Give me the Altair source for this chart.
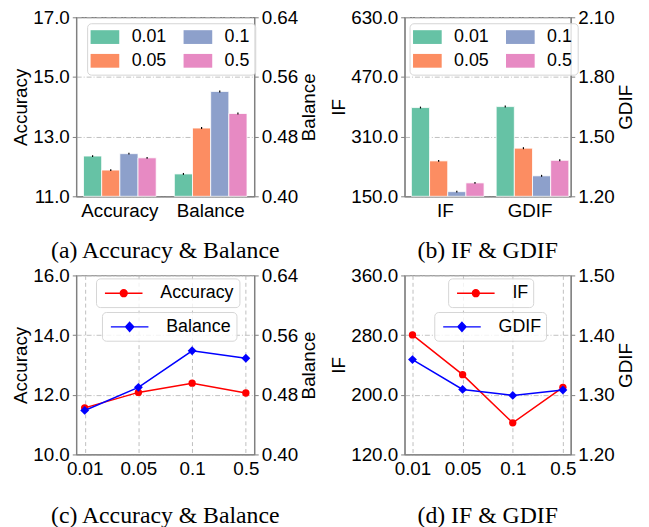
import altair as alt
import pandas as pd

rates = ["0.01", "0.05", "0.1", "0.5"]
bar_colors = ["#66c2a5", "#fc8d62", "#8da0cb", "#e78ac3"]

# (a) bars
acc_bar = [12.35, 11.88, 12.43, 12.29]
acc_bar_err = [0.03, 0.03, 0.03, 0.03]
bal_bar = [0.430, 0.4915, 0.5406, 0.511]
bal_bar_err = [0.0013, 0.0013, 0.0013, 0.0013]
# (b) bars
if_bar = [388.0, 245.0, 162.5, 186.0]
if_bar_err = [2.5, 2.5, 2.5, 2.5]
gdif_bar = [1.651, 1.442, 1.303, 1.381]
gdif_bar_err = [0.005, 0.005, 0.005, 0.005]
# (c) lines
acc_line = [11.56, 12.08, 12.39, 12.06]
bal_line = [0.459, 0.490, 0.539, 0.529]
# (d) lines
if_line = [280.3, 227.0, 162.4, 210.0]
gdif_line = [1.359, 1.309, 1.299, 1.308]

SANS = "Liberation Sans"
SERIF = "Liberation Serif"
FRAME = "#808080"


def caption(text, offset):
    return alt.TitleParams(text, orient="bottom", font=SERIF, fontSize=24,
                           fontWeight="normal", color="black", offset=offset,
                           anchor="middle", frame="group")


def left_axis(title, values):
    return alt.Axis(title=title, values=values, format=".1f", grid=True,
                    titlePadding=2)


def right_axis(title, values, fmt):
    return alt.Axis(title=title, values=values, format=fmt, grid=False,
                    orient="right", titleAngle=270, titleBaseline="top",
                    titlePadding=2)


def bar_panel(names, lv, le, rv, re, ldom, lticks, rdom, rticks, rfmt,
              width, legx, cap):
    dl = pd.DataFrame({"metric": names[0], "rate": rates, "value": lv,
                       "lo": [v - e for v, e in zip(lv, le)],
                       "hi": [v + e for v, e in zip(lv, le)]})
    dr = pd.DataFrame({"metric": names[1], "rate": rates, "value": rv,
                       "lo": [v - e for v, e in zip(rv, re)],
                       "hi": [v + e for v, e in zip(rv, re)]})
    X = alt.X("metric:N", scale=alt.Scale(domain=names, paddingInner=0.2,
                                          paddingOuter=0.08),
              axis=alt.Axis(title=None, labelAngle=0, ticks=False,
                            labelPadding=5, grid=False))
    XO = alt.XOffset("rate:N", scale=alt.Scale(domain=rates, paddingInner=0,
                                               paddingOuter=0))
    C = alt.Color("rate:N",
                  scale=alt.Scale(domain=rates, range=bar_colors),
                  legend=alt.Legend(title=None, orient="none", legendX=legx,
                                    legendY=6, columns=2,
                                    symbolType="M-2,-0.96H2V0.96H-2Z",
                                    symbolSize=210, symbolStrokeWidth=0,
                                    symbolOffset=4, symbolOpacity=1,
                                    labelFont=SANS, labelFontSize=18,
                                    labelOffset=18, columnPadding=16,
                                    rowPadding=6, padding=5,
                                    fillColor="rgba(255,255,255,0.8)",
                                    strokeColor="#d6d6d6", cornerRadius=4))
    lscale = alt.Scale(domain=ldom, zero=False, nice=False)
    rscale = alt.Scale(domain=rdom, zero=False, nice=False)
    la = left_axis(names[0], lticks)
    ra = right_axis(names[1], rticks, rfmt)
    lbar = alt.Chart(dl).mark_bar(stroke="white", strokeWidth=0.8).encode(
        x=X, xOffset=XO, color=C,
        y=alt.Y("value:Q", scale=lscale, axis=la), y2=alt.datum(ldom[0]))
    lerr = alt.Chart(dl).mark_rule(color="black", strokeWidth=1.2).encode(
        x=X, xOffset=XO, y=alt.Y("lo:Q", scale=lscale, axis=la), y2="hi:Q")
    rbar = alt.Chart(dr).mark_bar(stroke="white", strokeWidth=0.8).encode(
        x=X, xOffset=XO, color=C,
        y=alt.Y("value:Q", scale=rscale, axis=ra), y2=alt.datum(rdom[0]))
    rerr = alt.Chart(dr).mark_rule(color="black", strokeWidth=1.2).encode(
        x=X, xOffset=XO, y=alt.Y("lo:Q", scale=rscale, axis=ra), y2="hi:Q")
    return alt.layer(alt.layer(lbar, lerr), alt.layer(rbar, rerr)).resolve_scale(
        y="independent").properties(width=width, height=181,
                                    title=caption(cap, 19))


def line_legend(x, y, path, color):
    return alt.Legend(title=None, orient="none", legendX=x, legendY=y,
                      symbolType=path, symbolSize=324, symbolStrokeWidth=1.5,
                      symbolFillColor=color, symbolStrokeColor=color,
                      symbolOpacity=1, symbolOffset=13,
                      labelFont=SANS, labelFontSize=18, labelOffset=27,
                      padding=5, fillColor="rgba(255,255,255,0.8)",
                      strokeColor="#d6d6d6", cornerRadius=4)


CIRCLE_PATH = "M-2.11,0H2.11M0.38,0A0.38,0.38,0,1,1,-0.38,0A0.38,0.38,0,1,1,0.38,0Z"
DIAMOND_PATH = "M-2.11,0H2.11M0,-0.5L0.45,0L0,0.5L-0.45,0Z"


def line_panel(names, lv, rv, ldom, lticks, rdom, rticks, rfmt, width,
               leg1x, leg2x, cap):
    df = pd.DataFrame({"rate": rates, "left": lv, "right": rv,
                       "s1": names[0], "s2": names[1]})
    X = alt.X("rate:N", sort=rates,
              scale=alt.Scale(type="point", domain=rates, padding=0.157),
              axis=alt.Axis(title=None, labelAngle=0, ticks=False,
                            labelPadding=5, grid=True, gridDash=[4, 3]))
    l1 = alt.Chart(df).mark_line(strokeWidth=1.5, point=alt.OverlayMarkDef(
        shape="circle", size=55, filled=True, opacity=1)).encode(
        x=X,
        y=alt.Y("left:Q", scale=alt.Scale(domain=ldom, zero=False, nice=False),
                axis=left_axis(names[0], lticks)),
        color=alt.Color("s1:N", scale=alt.Scale(domain=[names[0]], range=["red"]),
                        legend=line_legend(leg1x, 3, CIRCLE_PATH, "red")))
    l2 = alt.Chart(df).mark_line(strokeWidth=1.5, point=alt.OverlayMarkDef(
        shape="diamond", size=80, filled=True, opacity=1)).encode(
        x=X,
        y=alt.Y("right:Q", scale=alt.Scale(domain=rdom, zero=False, nice=False),
                axis=right_axis(names[1], rticks, rfmt)),
        color=alt.Color("s2:N", scale=alt.Scale(domain=[names[1]], range=["blue"]),
                        legend=line_legend(leg2x, 37, DIAMOND_PATH, "blue")))
    return alt.layer(l1, l2).resolve_scale(
        y="independent", color="independent").properties(
        width=width, height=181, title=caption(cap, 26))


pa = bar_panel(["Accuracy", "Balance"], acc_bar, acc_bar_err, bal_bar, bal_bar_err,
               [11, 17], [11, 13, 15, 17], [0.40, 0.64], [0.40, 0.48, 0.56, 0.64],
               ".2f", 180, 11, "(a) Accuracy & Balance")
pb = bar_panel(["IF", "GDIF"], if_bar, if_bar_err, gdif_bar, gdif_bar_err,
               [150, 630], [150, 310, 470, 630], [1.2, 2.1], [1.2, 1.5, 1.8, 2.1],
               ".2f", 168, 5, "(b) IF & GDIF")
pc = line_panel(["Accuracy", "Balance"], acc_line, bal_line,
                [10, 16], [10, 12, 14, 16], [0.40, 0.64], [0.40, 0.48, 0.56, 0.64],
                ".2f", 180, 20, 26, "(c) Accuracy & Balance")
pd_ = line_panel(["IF", "GDIF"], if_line, gdif_line,
                 [120, 360], [120, 200, 280, 360], [1.2, 1.5], [1.2, 1.3, 1.4, 1.5],
                 ".2f", 168, 44, 30, "(d) IF & GDIF")

chart = alt.concat(pa, pb, pc, pd_, columns=2,
                   spacing={"row": 80, "column": 152}, bounds="flush").resolve_scale(
    color="independent"
).properties(
    padding={"left": 3, "top": -3.5, "right": 5, "bottom": 0},
    background="white"
).configure_axis(
    labelFont=SANS, labelFontSize=19, labelColor="black",
    titleFont=SANS, titleFontSize=19, titleFontWeight="normal", titleColor="black",
    domainColor=FRAME, domainWidth=1.2, tickColor=FRAME, tickSize=4, tickWidth=1,
    labelPadding=3, gridColor="#b8b8b8", gridWidth=0.9, gridDash=[5, 2, 1, 2],
    labelOverlap=False
).configure_view(stroke=FRAME, strokeWidth=1.2)

chart.save("out.html", embed_options={"renderer": "svg", "actions": False})
